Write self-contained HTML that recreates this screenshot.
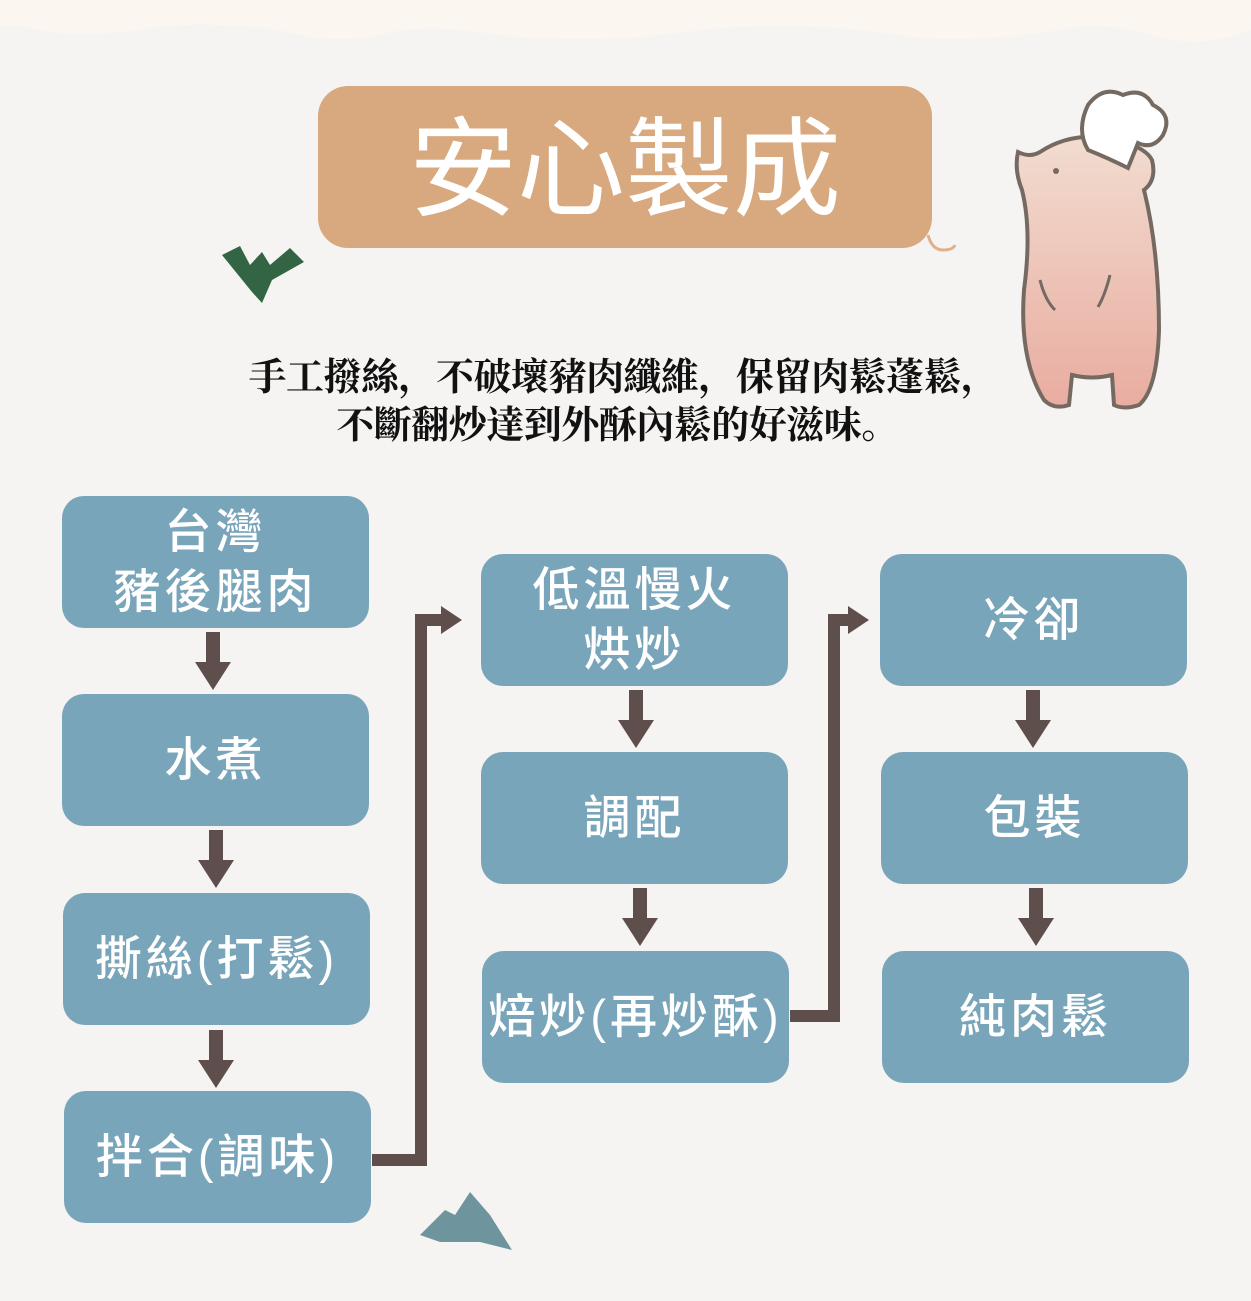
<!DOCTYPE html>
<html><head><meta charset="utf-8"><style>
body{margin:0;width:1251px;height:1301px;background:#f6f4f2;position:relative;overflow:hidden;font-family:"Liberation Sans","Noto Sans CJK TC",sans-serif}
.b{position:absolute;width:307px;height:132px;background:#79a5ba;border-radius:22px;color:#fff;display:flex;align-items:center;justify-content:center;text-align:center;font-size:47px;line-height:60px;letter-spacing:4px;font-weight:500}
.t{position:absolute;left:0;width:1251px;text-align:center;font-size:38px;color:#111;font-family:"Noto Serif CJK SC","Noto Sans CJK TC",serif;font-weight:bold;letter-spacing:-0.5px}
</style></head><body>
<svg width="1251" height="1301" style="position:absolute;left:0;top:0">
<defs><linearGradient id="g" x1="0" y1="0" x2="0" y2="1"><stop offset="0" stop-color="#f2dcd0"/><stop offset="1" stop-color="#e9aca0"/></linearGradient>
<g id="a"><rect x="-7" y="0" width="14" height="33"/><polygon points="-18,30 18,30 0,58"/></g></defs>
<path d="M0 0H1251V30Q1200 50 1150 35Q1100 20 1060 30Q960 45 900 35Q800 20 700 30Q600 45 500 35Q420 22 380 35Q330 45 280 30Q200 20 150 28Q80 40 30 28Q10 24 0 26Z" fill="#fbf7f0"/>
<rect x="318" y="86" width="614" height="162" rx="30" fill="#d8a87e"/>
<path d="M928 235q4 15 15 15q10 0 12 -5" stroke="#e0b08a" stroke-width="3" fill="none"/>
<polygon points="222,255 240,246 250,265 262,252 270,265 290,248 304,262 272,280 262,303 252,292" fill="#336544"/>
<polygon points="420,1235 445,1210 455,1215 470,1192 490,1215 512,1250 480,1242 440,1242" fill="#6e949d"/>
<path d="M1018 152q12 6 22 0q30 -20 70 -14q35 8 42 22q5 20 -8 30q15 60 15 140q-2 60 -20 75q-15 5 -25 0l-2 -30q-20 5 -40 0l-3 30q-15 5 -25 -5q-25 -40 -20 -110q8 -60 -2 -100q-8 -20 -4 -38z" fill="url(#g)" stroke="#756a62" stroke-width="4"/>
<path d="M1088 150q-12 -20 0 -45q15 -20 35 -10q20 -8 30 10q20 10 10 30q-10 15 -25 8l-10 25q-20 -10 -40 -18z" fill="#fff" stroke="#756a62" stroke-width="4"/>
<path d="M1040 280q5 20 15 30M1110 275q-5 20 -12 32" stroke="#756a62" stroke-width="3" fill="none"/>
<circle cx="1056" cy="171" r="3" fill="#756a62"/>
<g stroke="#5e4f4d" stroke-width="12" fill="none">
<path d="M372 1160H421V620H445"/><path d="M790 1016H834V620H852"/>
</g>
<g fill="#5e4f4d">
<polygon points="441,606 462,620 441,634"/><polygon points="848,606 869,620 848,634"/>
<use href="#a" x="213" y="632"/><use href="#a" x="216" y="830"/><use href="#a" x="216" y="1030"/>
<use href="#a" x="636" y="690"/><use href="#a" x="640" y="888"/>
<use href="#a" x="1033" y="690"/><use href="#a" x="1036" y="888"/>
</g>
</svg>
<div style="position:absolute;left:318px;top:80px;width:614px;height:162px;display:flex;align-items:center;justify-content:center;color:#fff;font-size:108px;font-family:'Noto Sans CJK TC',sans-serif;font-weight:400;letter-spacing:0px">安心製成</div>
<div class="t" style="top:346px;left:-2px">手工撥絲，不破壞豬肉纖維，保留肉鬆蓬鬆，</div>
<div class="t" style="top:394px;left:-8px">不斷翻炒達到外酥內鬆的好滋味。</div>
<div class="b" style="left:62px;top:496px">台灣<br>豬後腿肉</div>
<div class="b" style="left:62px;top:694px">水煮</div>
<div class="b" style="left:63px;top:893px">撕絲(打鬆)</div>
<div class="b" style="left:64px;top:1091px">拌合(調味)</div>
<div class="b" style="left:481px;top:554px">低溫慢火<br>烘炒</div>
<div class="b" style="left:481px;top:752px">調配</div>
<div class="b" style="left:482px;top:951px">焙炒(再炒酥)</div>
<div class="b" style="left:880px;top:554px">冷卻</div>
<div class="b" style="left:881px;top:752px">包裝</div>
<div class="b" style="left:882px;top:951px">純肉鬆</div>
</body></html>
